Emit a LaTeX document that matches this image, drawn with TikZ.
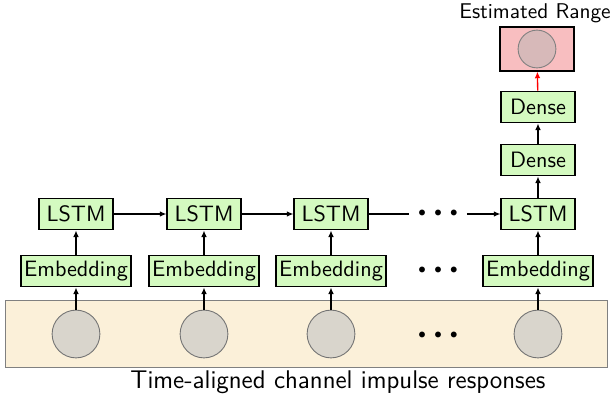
\documentclass[tikz,border=0pt]{standalone}
\usepackage{tikz}
\usetikzlibrary{arrows.meta}
\definecolor{leafgreen}{RGB}{212,250,192}
\definecolor{sand}{RGB}{251,240,217}
\definecolor{pebble}{RGB}{217,213,204}
\definecolor{blush}{RGB}{248,190,192}
\definecolor{mauve}{RGB}{215,185,185}
\tikzset{>={Latex[length=3pt,width=2.6pt]}}
\tikzset{
  layer/.style={draw,thick,fill=leafgreen,inner sep=1.5pt,minimum height=14pt,font=\sffamily},
  cell/.style={layer,minimum width=33pt},
  cir/.style={circle,draw=gray!90!black,fill=pebble,minimum size=21.5pt,inner sep=0pt},
  dots/.style={font=\small,inner sep=2pt},
  link/.style={->,semithick}
}

\begin{document}
\begin{tikzpicture}[x=0.45pt,y=-0.45pt]
    \useasboundingbox (0,0) rectangle (612,398);
    \draw[gray,fill=sand] (5,300) rectangle (607,367);
    \foreach \i/\x in {1/76,2/204,3/331,4/538} {
        \node[cir] (c\i) at (\x,334) {};
        \node[layer] (e\i) at (\x,271) {Embedding};
        \node[cell] (l\i) at (\x,214) {LSTM};
        \draw[link] (c\i) -- (e\i);
        \draw[link] (e\i) -- (l\i);
    }
    \node[dots] (d1) at (438,336) {\textbullet\textbullet\textbullet};
    \node[dots] (d2) at (438,271) {\textbullet\textbullet\textbullet};
    \node[dots] (d3) at (438,214) {\textbullet\textbullet\textbullet};
    \draw[link] (l1) -- (l2);
    \draw[link] (l2) -- (l3);
    \draw[semithick] (l3) -- (d3);
    \draw[link] (d3) -- (l4);
    \node[cell] (dn1) at (538,160) {Dense};
    \node[cell] (dn2) at (538,107) {Dense};
    \draw[link] (l4) -- (dn1);
    \draw[link] (dn1) -- (dn2);
    \node[draw,thick,fill=blush,minimum width=33pt,minimum height=19.5pt] (out) at (537,49) {};
    \node[circle,draw=gray,fill=mauve,minimum size=17pt] (oc) at (out) {};
    \draw[link,red] (dn2) -- (out);
    \node[font=\sffamily\fontsize{9.6}{11}\selectfont] (title) at (535,13) {Estimated Range};
    \node[font=\sffamily\fontsize{11.5}{13}\selectfont] (caption) at (338,382) {Time-aligned channel impulse responses};
\end{tikzpicture}
\end{document}
